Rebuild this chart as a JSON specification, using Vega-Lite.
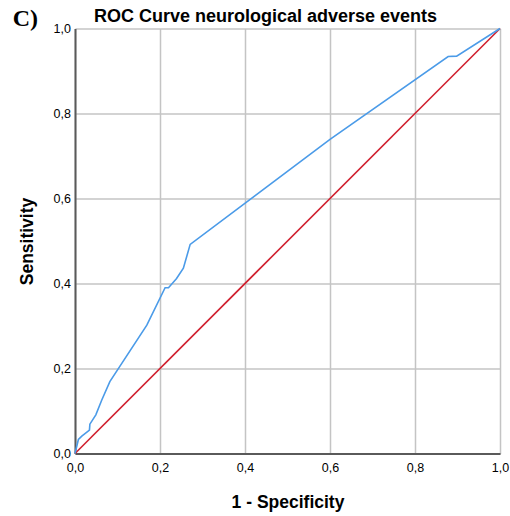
{
  "$schema": "https://vega.github.io/schema/vega-lite/v6.json",
  "width": 425,
  "height": 425,
  "autosize": {"type": "none"},
  "padding": {"left": 75, "top": 28.5, "right": 10, "bottom": 62.5},
  "background": "white",
  "title": {
    "text": "ROC Curve neurological adverse events",
    "font": "Liberation Sans",
    "fontSize": 18,
    "fontWeight": "bold",
    "color": "#000000",
    "anchor": "middle",
    "frame": "group",
    "baseline": "bottom",
    "offset": -37,
    "dx": -22
  },
  "datasets": {
    "roc": [
      {"fpr": 0.0, "tpr": 0.0},
      {"fpr": 0.008, "tpr": 0.033},
      {"fpr": 0.016, "tpr": 0.041},
      {"fpr": 0.034, "tpr": 0.055},
      {"fpr": 0.035, "tpr": 0.069},
      {"fpr": 0.049, "tpr": 0.091},
      {"fpr": 0.063, "tpr": 0.126},
      {"fpr": 0.082, "tpr": 0.169},
      {"fpr": 0.169, "tpr": 0.302},
      {"fpr": 0.212, "tpr": 0.39},
      {"fpr": 0.22, "tpr": 0.39},
      {"fpr": 0.239, "tpr": 0.412},
      {"fpr": 0.255, "tpr": 0.436},
      {"fpr": 0.271, "tpr": 0.492},
      {"fpr": 0.6, "tpr": 0.739},
      {"fpr": 0.878, "tpr": 0.934},
      {"fpr": 0.898, "tpr": 0.935},
      {"fpr": 1.0, "tpr": 1.0}
    ],
    "diag": [
      {"fpr": 0.0, "tpr": 0.0},
      {"fpr": 1.0, "tpr": 1.0}
    ],
    "label": [
      {"text": "C)", "x": -0.1466, "y": 1.006}
    ]
  },
  "layer": [
    {
      "data": {"name": "diag"},
      "mark": {"type": "line", "color": "#d0202f", "strokeWidth": 1.6},
      "encoding": {
        "x": {
          "field": "fpr", "type": "quantitative",
          "scale": {"domain": [0, 1], "nice": false, "zero": false},
          "axis": {
            "title": "1 - Specificity",
            "values": [0, 0.2, 0.4, 0.6, 0.8, 1.0],
            "labelExpr": "replace(format(datum.value, '.1f'), '.', ',')",
            "grid": true
          }
        },
        "y": {
          "field": "tpr", "type": "quantitative",
          "scale": {"domain": [0, 1], "nice": false, "zero": false},
          "axis": {
            "title": "Sensitivity",
            "values": [0, 0.2, 0.4, 0.6, 0.8, 1.0],
            "labelExpr": "replace(format(datum.value, '.1f'), '.', ',')",
            "grid": true
          }
        }
      }
    },
    {
      "data": {"name": "roc"},
      "mark": {"type": "line", "color": "#4b9be8", "strokeWidth": 1.6},
      "encoding": {
        "x": {"field": "fpr", "type": "quantitative"},
        "y": {"field": "tpr", "type": "quantitative"}
      }
    },
    {
      "data": {"name": "label"},
      "mark": {
        "type": "text",
        "font": "Liberation Serif",
        "fontSize": 24,
        "fontWeight": "bold",
        "align": "left",
        "baseline": "alphabetic",
        "color": "#000000"
      },
      "encoding": {
        "x": {"field": "x", "type": "quantitative"},
        "y": {"field": "y", "type": "quantitative"},
        "text": {"field": "text"}
      }
    }
  ],
  "config": {
    "view": {"stroke": null},
    "axis": {
      "domainColor": "#5a5a5a",
      "domainWidth": 2,
      "gridColor": "#c4c4c4",
      "gridWidth": 1.5,
      "ticks": false,
      "tickSize": 0,
      "labelFont": "Liberation Sans",
      "labelFontSize": 12.5,
      "labelColor": "#000000",
      "labelFlush": false,
      "titleFont": "Liberation Sans",
      "titleFontSize": 17.5,
      "titleFontWeight": "bold",
      "titleColor": "#000000"
    },
    "axisX": {"labelPadding": 8, "titlePadding": 19},
    "axisY": {"labelPadding": 4.5, "titlePadding": 17}
  }
}
